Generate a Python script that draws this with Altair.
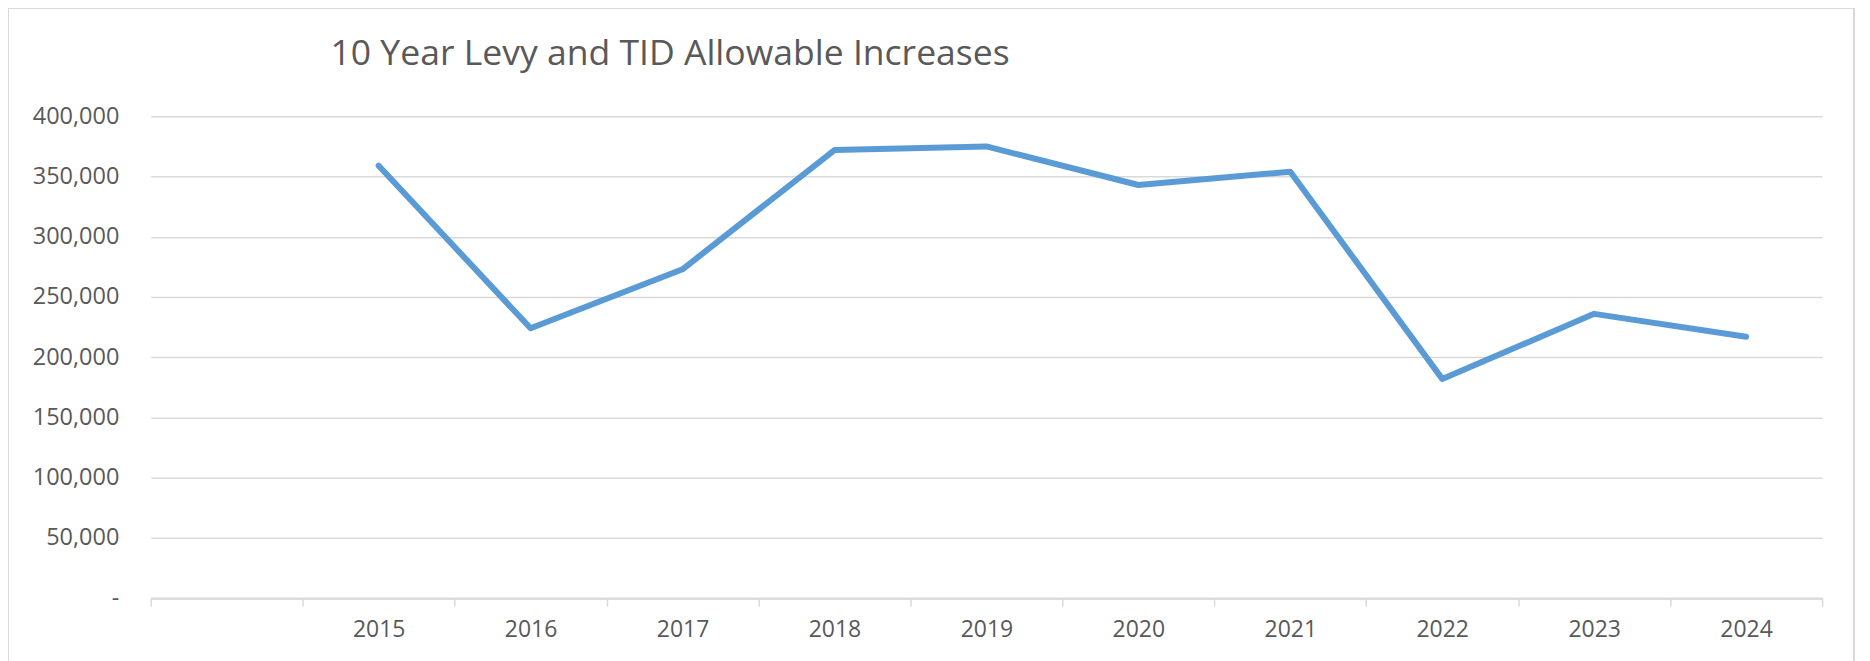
import altair as alt
import pandas as pd

# Categories (Excel chart had a blank first category)
categories = ["", "2015", "2016", "2017", "2018", "2019", "2020", "2021", "2022", "2023", "2024"]
years = ["2015", "2016", "2017", "2018", "2019", "2020", "2021", "2022", "2023", "2024"]
values = [359000, 224000, 273000, 372000, 375000, 343000, 354000, 182000, 236000, 217000]
y_ticks = [0, 50000, 100000, 150000, 200000, 250000, 300000, 350000, 400000]
title_text = "10 Year Levy and TID Allowable Increases"

df = pd.DataFrame({"year": years, "value": values})

FONT = "Open Sans"
GRID = "#d9d9d9"
TEXT = "#595959"
W, H = 1674, 482.5

x_enc = alt.X(
    "year:O",
    scale=alt.Scale(type="band", domain=categories, paddingInner=0, paddingOuter=0),
    bandPosition=0.5,
    axis=alt.Axis(
        title=None, labelAngle=0, grid=False, domain=True, domainColor=GRID, domainWidth=2,
        ticks=True, tickBand="extent", tickSize=8, tickColor=GRID, tickWidth=1.5,
        labelFont=FONT, labelFontSize=23, labelColor=TEXT, labelPadding=12,
    ),
)
y_enc = alt.Y(
    "value:Q",
    scale=alt.Scale(domain=[0, 400000], nice=False, zero=True),
    axis=alt.Axis(
        title=None, values=y_ticks, domain=False, ticks=False, grid=True,
        gridColor=GRID, gridWidth=1.5,
        labelExpr="datum.value == 0 ? '-\u00a0\u00a0' : format(datum.value, ',')",
        labelFont=FONT, labelFontSize=23.5, labelColor=TEXT, labelPadding=32,
    ),
)

line = alt.Chart(df).mark_line(color="#5b9bd5", strokeWidth=6, strokeCap="round", strokeJoin="round").encode(
    x=x_enc, y=y_enc
)

frame = alt.Chart(df).mark_rect(fill=None, stroke=GRID, strokeWidth=2).encode(
    x=alt.value(-143), x2=alt.value(1706), y=alt.value(-109), y2=alt.value(570)
)

chart = alt.layer(frame, line).properties(
    width=W,
    height=H,
    background="white",
    title=alt.TitleParams(
        text=title_text, anchor="start", frame="group", dx=180, offset=0, dy=94,
        baseline="alphabetic",
        font=FONT, fontSize=35.6, fontWeight="normal", color=TEXT,
    ),
    autosize=alt.AutoSizeParams(type="none"),
    padding={"left": 143, "top": 108, "right": 40, "bottom": 62},
).configure_view(stroke=None, strokeWidth=0)

chart.save("out.html", embed_options={"renderer": "svg", "actions": False})
